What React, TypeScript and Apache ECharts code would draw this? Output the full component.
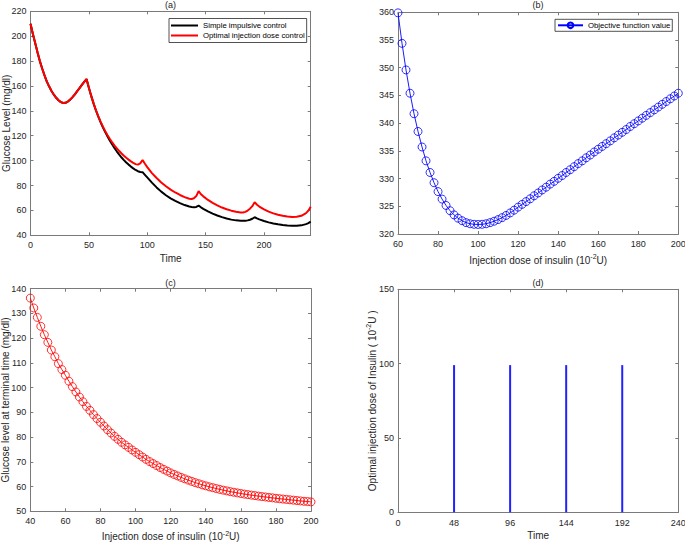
import React, { useEffect, useRef } from "react";
import * as echarts from "echarts";

// Panel (a): glucose level over time
const timeA = [0, 2, 4, 6, 8, 10, 12, 14, 16, 18, 20, 22, 24, 26, 28, 30, 32, 34, 36, 38, 40, 42, 44, 46, 48,
  50, 52, 54, 56, 58, 60, 62, 64, 66, 68, 70, 72, 74, 76, 78, 80, 82, 84, 86, 88, 90, 92, 94, 96,
  98, 100, 104, 108, 112, 116, 120, 124, 128, 132, 136, 138, 140, 142, 144,
  146, 148, 152, 156, 160, 164, 168, 172, 176, 180, 182, 184, 186, 188, 190, 192,
  194, 196, 200, 204, 208, 212, 216, 220, 224, 228, 232, 236, 238, 240];
const simpleControl = [210, 202, 194.5, 187, 180, 174, 168.5, 163.5, 159.5, 156, 153, 150.5, 148.5, 147, 146.3, 146.5, 147.5, 149, 151, 153.3, 155.8, 158.3, 160.8, 163.2, 165.5,
  158.5, 152, 146, 140.5, 135.5, 131, 126.8, 123, 119.4, 116, 112.9, 110, 107.3, 104.8, 102.5, 100.4, 98.5, 96.8, 95.2, 93.8, 92.5, 91.5, 90.9, 90.7,
  88.6, 86.5, 82.3, 78.5, 75.1, 72.2, 69.7, 67.6, 65.8, 64.3, 63.1, 62.7, 62.5, 62.8, 63.8,
  62.5, 61.3, 59.2, 57.4, 55.9, 54.6, 53.5, 52.6, 52, 51.6, 51.6, 51.7, 52, 52.5, 53.3, 54.5,
  53.6, 52.8, 51.5, 50.4, 49.5, 48.8, 48.2, 47.8, 47.6, 47.6, 48, 49, 49.8, 51];
const optimalControl = [210, 202, 194.5, 187, 180, 174, 168.5, 163.5, 159.5, 156, 153, 150.5, 148.5, 147, 146.3, 146.5, 147.5, 149, 151, 153.3, 155.8, 158.3, 160.8, 163.2, 165.5,
  158.5, 152, 146, 140.6, 135.7, 131.3, 127.3, 123.7, 120.4, 117.4, 114.6, 112.1, 109.8, 107.7, 105.7, 103.9, 102.3, 100.8, 99.4, 98.2, 97.2, 96.8, 97.8, 100.5,
  97.5, 94.8, 90, 86, 82.5, 79.4, 76.7, 74.4, 72.4, 70.7, 69.4, 69.2, 69.8, 71.5, 75.5,
  73, 71.3, 68.4, 66, 64, 62.3, 60.9, 59.8, 58.9, 58.3, 58.3, 58.8, 59.9, 61.4, 63.4, 66.5,
  64.6, 63.1, 60.8, 59, 57.6, 56.5, 55.7, 55.1, 54.8, 54.9, 55.7, 57.8, 59.8, 63];

// Panel (b): objective function value vs dose
const doseB = [60, 62, 64, 66, 68, 70, 72, 74, 76, 78, 80, 82, 84, 86, 88, 90, 92, 94, 96, 98, 100,
  102, 104, 106, 108, 110, 112, 114, 116, 118, 120, 122, 124, 126, 128, 130, 132, 134, 136, 138, 140,
  142, 144, 146, 148, 150, 152, 154, 156, 158, 160, 162, 164, 166, 168, 170, 172, 174, 176, 178, 180,
  182, 184, 186, 188, 190, 192, 194, 196, 198, 200];
const objectiveB = [359.9, 354.4, 349.6, 345.4, 341.7, 338.5, 335.7, 333.2, 331.1, 329.25, 327.65, 326.3, 325.15, 324.2, 323.45, 322.85, 322.4, 322.05, 321.85, 321.75, 321.72,
  321.75, 321.85, 322.05, 322.3, 322.6, 322.95, 323.35, 323.8, 324.3, 324.85, 325.35, 325.85, 326.35, 326.9, 327.4, 327.95, 328.45, 329.0, 329.5, 330.05,
  330.55, 331.1, 331.6, 332.15, 332.7, 333.2, 333.75, 334.25, 334.8, 335.3, 335.8, 336.3, 336.8, 337.35, 337.85, 338.35, 338.85, 339.4, 339.9, 340.4,
  340.9, 341.4, 341.9, 342.4, 342.9, 343.4, 343.9, 344.4, 344.9, 345.4];

// Panel (c): terminal glucose vs dose
const doseC = [40, 42, 44, 46, 48, 50, 52, 54, 56, 58, 60, 62, 64, 66, 68, 70, 72, 74, 76, 78, 80,
  82, 84, 86, 88, 90, 92, 94, 96, 98, 100, 102, 104, 106, 108, 110, 112, 114, 116, 118, 120,
  122, 124, 126, 128, 130, 132, 134, 136, 138, 140, 142, 144, 146, 148, 150, 152, 154, 156, 158, 160,
  162, 164, 166, 168, 170, 172, 174, 176, 178, 180, 182, 184, 186, 188, 190, 192, 194, 196, 198, 200];
const terminalC = [136.2, 132.2, 128.4, 124.8, 121.4, 118.3, 115.2, 112.5, 109.7, 107.3, 105.0, 102.6, 100.4, 98.25, 96.2, 94.3, 92.4, 90.8, 89.1, 87.5, 86.0,
  84.5, 83.0, 81.65, 80.3, 79.1, 77.9, 76.85, 75.85, 74.8, 73.85, 72.9, 71.95, 71.0, 70.1, 69.3, 68.5, 67.7, 66.95, 66.25, 65.55,
  64.9, 64.3, 63.7, 63.15, 62.6, 62.1, 61.6, 61.15, 60.7, 60.3, 59.9, 59.55, 59.2, 58.85, 58.55, 58.25, 57.95, 57.7, 57.45, 57.2,
  56.95, 56.75, 56.55, 56.35, 56.15, 55.95, 55.8, 55.6, 55.45, 55.25, 55.1, 54.95, 54.8, 54.65, 54.5, 54.35, 54.2, 54.05, 53.95, 53.8];

// Panel (d): optimal injection dose at impulse times
const impulseTimes = [48, 96, 144, 192];
const impulseDoses = [99, 99, 99, 99];

const FONT = "'Liberation Sans', Arial, Helvetica, sans-serif";
const TXT = "#262626";
const AX = "#7a7a7a";

function zip(xs: number[], ys: number[]) {
  return xs.map((x, i) => [x, ys[i]]);
}

function mainAxis(gridIndex: number, pos: string, min: number, max: number, interval: number, extra: any = {}) {
  return {
    type: "value",
    gridIndex,
    position: pos,
    min,
    max,
    interval,
    nameMoveOverlap: false,
    axisLine: { show: true, onZero: false, lineStyle: { color: AX, width: 1 } },
    axisTick: { show: true, inside: true, length: 3, lineStyle: { color: AX, width: 1 } },
    axisLabel: { show: true, color: TXT, fontSize: 9, margin: 4, fontFamily: FONT, showMaxLabel: true },
    splitLine: { show: false },
    ...extra,
  };
}

function boxAxis(gridIndex: number, pos: string, min: number, max: number, interval: number) {
  return {
    type: "value",
    gridIndex,
    position: pos,
    min,
    max,
    interval,
    axisLine: { show: true, onZero: false, lineStyle: { color: AX, width: 1 } },
    axisTick: { show: true, inside: true, length: 3, lineStyle: { color: AX, width: 1 } },
    axisLabel: { show: false },
    splitLine: { show: false },
  };
}

const nameStyle = {
  fontSize: 10,
  color: TXT,
  fontFamily: FONT,
  lineHeight: 14,
  rich: {
    sup: { fontSize: 7, verticalAlign: "top", color: TXT, fontFamily: FONT },
  },
};

export default function App() {
  const ref = useRef<HTMLDivElement>(null);
  useEffect(() => {
    if (!ref.current) return;
    const chart = echarts.init(ref.current, null, { renderer: "svg" });
    const gridBase = { containLabel: false, outerBoundsMode: "none" };
    const option: any = {
      animation: false,
      backgroundColor: "#ffffff",
      textStyle: { fontFamily: FONT },
      grid: [
        { ...gridBase, left: 30.5, top: 11.3, width: 280.2, height: 224 },
        { ...gridBase, left: 398, top: 12.3, width: 280.3, height: 221.7 },
        { ...gridBase, left: 30.3, top: 288.7, width: 280.7, height: 222.6 },
        { ...gridBase, left: 398, top: 289.3, width: 280.3, height: 223 },
      ],
      graphic: [
        { type: "text", x: 170.6, y: 5, style: { text: "(a)", fill: TXT, font: `9px ${FONT}`, textAlign: "center", textVerticalAlign: "middle" } },
        { type: "text", x: 538, y: 5, style: { text: "(b)", fill: TXT, font: `9px ${FONT}`, textAlign: "center", textVerticalAlign: "middle" } },
        { type: "text", x: 170.6, y: 282.5, style: { text: "(c)", fill: TXT, font: `9px ${FONT}`, textAlign: "center", textVerticalAlign: "middle" } },
        { type: "text", x: 538, y: 282.5, style: { text: "(d)", fill: TXT, font: `9px ${FONT}`, textAlign: "center", textVerticalAlign: "middle" } },
      ],
      legend: [
        {
          data: [
            { name: "Simple impulsive control", icon: "rect" },
            { name: "Optimal injection dose control", icon: "rect" },
          ],
          left: 169,
          top: 18.5,
          orient: "vertical",
          itemGap: 2,
          itemWidth: 27,
          itemHeight: 2,
          padding: [3, 2, 3, 2],
          borderColor: "#262626",
          borderWidth: 0.8,
          borderRadius: 0,
          backgroundColor: "#ffffff",
          textStyle: { fontSize: 7.75, color: "#000", fontFamily: FONT, lineHeight: 8 },
        },
        {
          data: ["Objective function value"],
          left: 555,
          top: 19.3,
          orient: "vertical",
          itemWidth: 25,
          itemHeight: 7,
          padding: [2, 2, 2, 2],
          borderColor: "#262626",
          borderWidth: 0.8,
          borderRadius: 0,
          backgroundColor: "#ffffff",
          textStyle: { fontSize: 7.75, color: "#000", fontFamily: FONT },
        },
      ],
      xAxis: [
        mainAxis(0, "bottom", 0, 240, 50, {
          name: "Time", nameLocation: "middle", nameGap: 16, nameTextStyle: nameStyle,
          axisLabel: { show: true, color: TXT, fontSize: 9, margin: 5, fontFamily: FONT, showMaxLabel: false },
        }),
        boxAxis(0, "top", 0, 240, 50),
        mainAxis(1, "bottom", 60, 200, 20, {
          name: "Injection dose of insulin (10{sup|-2}U)", nameLocation: "middle", nameGap: 19, nameTextStyle: nameStyle,
          axisLabel: { show: true, color: TXT, fontSize: 9, margin: 5, fontFamily: FONT },
        }),
        boxAxis(1, "top", 60, 200, 20),
        mainAxis(2, "bottom", 40, 200, 20, {
          name: "Injection dose of insulin (10{sup|-2}U)", nameLocation: "middle", nameGap: 18.4, nameTextStyle: nameStyle,
          axisLabel: { show: true, color: TXT, fontSize: 9, margin: 5, fontFamily: FONT },
        }),
        boxAxis(2, "top", 40, 200, 20),
        mainAxis(3, "bottom", 0, 240, 48, {
          name: "Time", nameLocation: "middle", nameGap: 15.7, nameTextStyle: nameStyle,
          axisLabel: { show: true, color: TXT, fontSize: 9, margin: 6, fontFamily: FONT },
        }),
        boxAxis(3, "top", 0, 240, 48),
      ],
      yAxis: [
        mainAxis(0, "left", 40, 220, 20, {
          name: "Glucose Level (mg/dl)", nameLocation: "middle", nameGap: 17.5, nameTextStyle: nameStyle,
        }),
        boxAxis(0, "right", 40, 220, 20),
        mainAxis(1, "left", 320, 360, 5),
        boxAxis(1, "right", 320, 360, 5),
        mainAxis(2, "left", 50, 140, 10, {
          name: "Glucose level at terminal time (mg/dl)", nameLocation: "middle", nameGap: 18, nameTextStyle: nameStyle,
        }),
        boxAxis(2, "right", 50, 140, 10),
        mainAxis(3, "left", 0, 150, 50, {
          name: "Optimal injection dose of Insulin ( 10{sup|-2}U )", nameLocation: "middle", nameGap: 19, nameTextStyle: nameStyle,
        }),
        boxAxis(3, "right", 0, 150, 50),
      ],
      series: [
        {
          name: "Simple impulsive control",
          type: "line",
          xAxisIndex: 0,
          yAxisIndex: 0,
          data: zip(timeA, simpleControl),
          symbol: "none",
          smooth: false,
          lineStyle: { color: "#000000", width: 2 },
          itemStyle: { color: "#000000" },
        },
        {
          name: "Optimal injection dose control",
          type: "line",
          xAxisIndex: 0,
          yAxisIndex: 0,
          data: zip(timeA, optimalControl),
          symbol: "none",
          smooth: false,
          lineStyle: { color: "#ff0000", width: 2 },
          itemStyle: { color: "#ff0000" },
        },
        {
          name: "Objective function value",
          type: "line",
          xAxisIndex: 2,
          yAxisIndex: 2,
          data: zip(doseB, objectiveB),
          symbol: "circle",
          symbolSize: 8,
          showAllSymbol: true,
          lineStyle: { color: "#0000ff", width: 0.9 },
          itemStyle: { color: "rgba(255,255,255,0)", borderColor: "#0000ff", borderWidth: 0.8 },
        },
        {
          name: "Terminal glucose",
          type: "line",
          xAxisIndex: 4,
          yAxisIndex: 4,
          data: zip(doseC, terminalC),
          symbol: "circle",
          symbolSize: 8,
          showAllSymbol: true,
          lineStyle: { color: "#ff0000", width: 0.9 },
          itemStyle: { color: "rgba(255,255,255,0)", borderColor: "#ff0000", borderWidth: 0.8 },
        },
        {
          name: "Optimal dose",
          type: "bar",
          xAxisIndex: 6,
          yAxisIndex: 6,
          data: zip(impulseTimes, impulseDoses),
          barWidth: 2,
          itemStyle: { color: "#2222ff" },
        },
      ],
    };
    chart.setOption(option);
    return () => chart.dispose();
  }, []);
  return (
    <div
      ref={ref}
      style={{ position: "fixed", left: 0, top: 0, width: 685, height: 543, background: "#fff" }}
    />
  );
}
